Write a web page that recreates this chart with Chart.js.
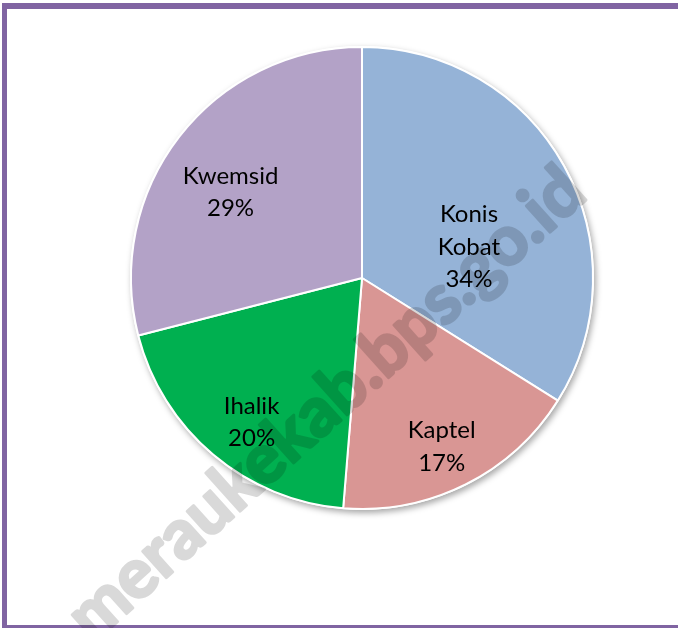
<!DOCTYPE html>
<html>
<head>
<meta charset="utf-8">
<script src="https://cdn.jsdelivr.net/npm/chart.js@4.4.1/dist/chart.umd.min.js"></script>
<style>
  html, body { margin: 0; padding: 0; background: #fff; overflow: hidden; }
  body { width: 678px; height: 628px; position: relative; }
  #frame {
    position: absolute; left: 2px; top: 3px;
    width: 800px; height: 616px;
    border: 6px solid #8064A2; border-left-width: 5px;
  }
  #pieChart { position: absolute; left: 0; top: 0; }
</style>
</head>
<body>
<div id="frame"></div>
<canvas id="pieChart" width="678" height="628"></canvas>
<script>
// Distrik share (percent)
const categories = ['Konis Kobat', 'Kaptel', 'Ihalik', 'Kwemsid'];
const shares     = [33.9, 17.4, 19.7, 29.0];
const colors     = ['#95B3D7', '#D99694', '#00B050', '#B3A2C7'];

// label block centres, in units of the pie radius from its centre
const labelOffsets = [[0.463, -0.138], [0.345, 0.726], [-0.478, 0.621], [-0.569, -0.375]];

const FONT = 'Lato, "Liberation Sans", sans-serif';

// soft drop shadow under the whole pie, like the Excel original
const pieShadow = {
  id: 'pieShadow',
  beforeDatasetsDraw(chart) {
    const arc = chart.getDatasetMeta(0).data[0];
    if (!arc) return;
    const ctx = chart.ctx;
    ctx.save();
    ctx.shadowColor = 'rgba(0,0,0,0.35)';
    ctx.shadowBlur = 6;
    ctx.shadowOffsetX = 2;
    ctx.shadowOffsetY = 3;
    ctx.fillStyle = '#fff';
    ctx.beginPath();
    ctx.arc(arc.x, arc.y, arc.outerRadius + 1, 0, Math.PI * 2);
    ctx.fill();
    ctx.restore();
  },
};

// category name + percentage inside each slice
const sliceLabels = {
  id: 'sliceLabels',
  afterDatasetsDraw(chart) {
    const ctx = chart.ctx;
    const total = shares.reduce((a, b) => a + b, 0);
    const lineH = 32.5;
    ctx.save();
    ctx.fillStyle = '#000';
    ctx.font = '24px ' + FONT;
    ctx.textAlign = 'center';
    ctx.textBaseline = 'middle';
    chart.getDatasetMeta(0).data.forEach((arc, i) => {
      const r = arc.outerRadius;
      const cx = arc.x + labelOffsets[i][0] * r;
      const cy = arc.y + labelOffsets[i][1] * r;
      const lines = categories[i].split(' ');
      lines.push(Math.round(shares[i] / total * 100) + '%');
      const top = cy - (lines.length - 1) * lineH / 2;
      lines.forEach((t, k) => ctx.fillText(t, cx, top + k * lineH + 1));
    });
    ctx.restore();
  },
};

// diagonal source watermark (drawn opaque offscreen, then blended in)
const watermark = {
  id: 'watermark',
  afterDraw(chart) {
    const ctx = chart.ctx;
    const text = 'meraukekab.bps.go.id';
    const off = document.createElement('canvas');
    off.width = chart.width;
    off.height = chart.height;
    const o = off.getContext('2d');
    o.font = 'bold 100px ' + FONT;
    const size = 100 * 668 / o.measureText(text).width;
    o.font = 'bold ' + size.toFixed(1) + 'px ' + FONT;
    o.translate(326, 404);
    o.rotate(-42 * Math.PI / 180);
    o.fillStyle = '#000';
    o.strokeStyle = '#000';
    o.lineWidth = 3;
    o.lineJoin = 'round';
    o.textAlign = 'center';
    o.textBaseline = 'middle';
    o.fillText(text, 0, 0);
    o.strokeText(text, 0, 0);
    ctx.save();
    ctx.globalAlpha = 0.15;
    ctx.drawImage(off, 0, 0);
    ctx.restore();
  },
};

new Chart(document.getElementById('pieChart'), {
  type: 'pie',
  data: {
    labels: categories,
    datasets: [{
      data: shares,
      backgroundColor: colors,
      borderColor: '#fff',
      borderWidth: 2,
    }],
  },
  options: {
    responsive: false,
    animation: false,
    layout: { padding: { left: 129, right: 83, top: 46, bottom: 118 } },
    plugins: {
      legend: { display: false },
      tooltip: { enabled: false },
    },
  },
  plugins: [pieShadow, sliceLabels, watermark],
});
</script>
</body>
</html>
